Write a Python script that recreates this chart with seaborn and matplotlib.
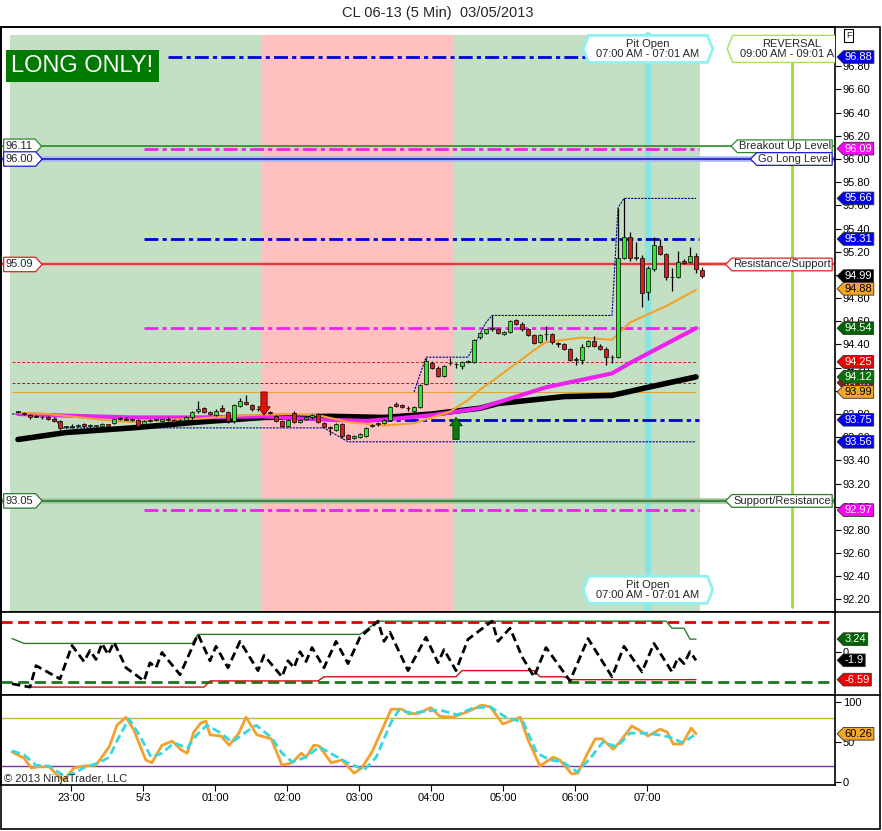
import numpy as np
import seaborn as sns
import matplotlib
matplotlib.use('Agg')
import matplotlib.pyplot as plt
from matplotlib.path import Path
from matplotlib.patches import Rectangle
from matplotlib.lines import Line2D
from matplotlib.ticker import FormatStrFormatter

# ---------------- data ----------------
# 5 min bars, first bar 22:15, last bar 07:45
opens = [93.82, 93.81, 93.79, 93.78, 93.77, 93.77, 93.76, 93.74, 93.69, 93.69,
         93.70, 93.71, 93.70, 93.70, 93.70, 93.71, 93.72, 93.76, 93.76, 93.75,
         93.75, 93.71, 93.74, 93.75, 93.74, 93.76, 93.75, 93.74, 93.75, 93.77,
         93.83, 93.85, 93.82, 93.79, 93.85, 93.82, 93.74, 93.87, 93.90, 93.88,
         93.84, 93.83, 93.82, 93.78, 93.74, 93.70, 93.81, 93.73, 93.76, 93.77,
         93.80, 93.72, 93.69, 93.66, 93.71, 93.62, 93.59, 93.60, 93.61, 93.70,
         93.71, 93.72, 93.75, 93.89, 93.88, 93.85, 93.83, 93.86, 94.06, 94.24,
         94.20, 94.13, 94.24, 94.23, 94.21, 94.25, 94.25, 94.46, 94.50, 94.53,
         94.53, 94.49, 94.51, 94.61, 94.58, 94.53, 94.48, 94.42, 94.49, 94.49,
         94.41, 94.40, 94.36, 94.27, 94.27, 94.39, 94.43, 94.39, 94.36, 94.29,
         94.29, 95.15, 95.33, 95.15, 95.15, 94.85, 95.05, 95.25, 95.18, 94.98,
         94.98, 95.12, 95.11, 95.16, 95.04]
highs = [93.83, 93.82, 93.80, 93.79, 93.78, 93.78, 93.77, 93.75, 93.70, 93.71,
         93.71, 93.72, 93.71, 93.70, 93.72, 93.71, 93.76, 93.77, 93.77, 93.76,
         93.76, 93.75, 93.76, 93.76, 93.76, 93.77, 93.76, 93.76, 93.78, 93.83,
         93.91, 93.86, 93.83, 93.84, 93.88, 93.83, 93.89, 93.94, 93.96, 93.89,
         93.85, 93.85, 93.83, 93.79, 93.75, 93.76, 93.83, 93.76, 93.78, 93.80,
         93.81, 93.73, 93.70, 93.72, 93.72, 93.63, 93.62, 93.64, 93.69, 93.71,
         93.73, 93.76, 93.87, 93.90, 93.89, 93.87, 93.87, 94.06, 94.28, 94.26,
         94.21, 94.22, 94.28, 94.24, 94.26, 94.27, 94.45, 94.51, 94.53, 94.65,
         94.54, 94.52, 94.61, 94.62, 94.59, 94.54, 94.49, 94.49, 94.56, 94.50,
         94.42, 94.41, 94.37, 94.29, 94.40, 94.44, 94.47, 94.40, 94.38, 94.31,
         95.58, 95.66, 95.37, 95.28, 95.17, 95.08, 95.33, 95.31, 95.19, 95.06,
         95.21, 95.14, 95.24, 95.19, 95.07]
lows = [93.81, 93.79, 93.76, 93.77, 93.76, 93.75, 93.73, 93.66, 93.68, 93.68,
        93.69, 93.69, 93.69, 93.69, 93.69, 93.70, 93.71, 93.75, 93.75, 93.74,
        93.69, 93.70, 93.73, 93.74, 93.73, 93.74, 93.72, 93.73, 93.74, 93.76,
        93.81, 93.81, 93.79, 93.78, 93.82, 93.72, 93.72, 93.86, 93.88, 93.83,
        93.83, 93.80, 93.80, 93.73, 93.69, 93.69, 93.72, 93.72, 93.75, 93.76,
        93.72, 93.68, 93.62, 93.65, 93.59, 93.58, 93.58, 93.59, 93.60, 93.69,
        93.70, 93.71, 93.74, 93.86, 93.85, 93.83, 93.82, 93.85, 94.05, 94.19,
        94.12, 94.12, 94.22, 94.20, 94.19, 94.24, 94.24, 94.45, 94.49, 94.52,
        94.49, 94.48, 94.50, 94.57, 94.52, 94.47, 94.40, 94.41, 94.44, 94.40,
        94.38, 94.35, 94.26, 94.22, 94.23, 94.38, 94.38, 94.35, 94.22, 94.24,
        94.28, 95.14, 95.12, 95.13, 94.72, 94.78, 95.03, 95.17, 94.96, 94.86,
        94.97, 95.09, 95.10, 95.02, 94.97]
closes = [93.82, 93.80, 93.77, 93.77, 93.77, 93.76, 93.74, 93.68, 93.69, 93.70,
          93.70, 93.70, 93.70, 93.70, 93.71, 93.70, 93.76, 93.76, 93.75, 93.75,
          93.70, 93.74, 93.75, 93.75, 93.76, 93.75, 93.73, 93.75, 93.77, 93.82,
          93.84, 93.82, 93.80, 93.83, 93.83, 93.74, 93.88, 93.91, 93.89, 93.84,
          93.84, 93.82, 93.81, 93.74, 93.70, 93.75, 93.73, 93.75, 93.77, 93.79,
          93.73, 93.69, 93.68, 93.71, 93.61, 93.585, 93.61, 93.63, 93.68, 93.70,
          93.72, 93.75, 93.86, 93.87, 93.86, 93.85, 93.86, 94.05, 94.26, 94.20,
          94.13, 94.21, 94.24, 94.23, 94.25, 94.26, 94.44, 94.50, 94.53, 94.54,
          94.50, 94.51, 94.60, 94.58, 94.53, 94.48, 94.41, 94.48, 94.49, 94.42,
          94.40, 94.36, 94.27, 94.27, 94.38, 94.43, 94.39, 94.36, 94.29, 94.29,
          95.15, 95.33, 95.15, 95.15, 94.84, 95.06, 95.26, 95.18, 94.98, 94.98,
          95.11, 95.10, 95.16, 95.05, 94.99]

# moving averages (bar index, price)
slow_ma_x = [0, 8, 19, 30, 41, 52, 61, 69, 77, 80, 91, 99, 105, 113]
slow_ma_y = [93.58, 93.64, 93.68, 93.73, 93.77, 93.78, 93.77, 93.80, 93.85, 93.89,
             93.95, 93.96, 94.03, 94.12]
mid_ma_x = [0, 5, 19, 30, 41, 47, 52, 58, 63, 69, 73, 77, 80, 88, 99, 102, 113]
mid_ma_y = [93.80, 93.79, 93.77, 93.77, 93.78, 93.76, 93.75, 93.74, 93.76, 93.79,
            93.82, 93.85, 93.90, 94.03, 94.15, 94.24, 94.54]
fast_ma_x = [0, 5, 14, 19, 25, 30, 38, 44, 50, 55, 61, 66, 72, 75, 77, 80, 86, 88,
             94, 99, 102, 108, 113]
fast_ma_y = [93.81, 93.80, 93.75, 93.73, 93.75, 93.76, 93.79, 93.80, 93.79, 93.73,
             93.70, 93.72, 93.82, 93.92, 94.01, 94.12, 94.35, 94.42, 94.46, 94.44,
             94.59, 94.73, 94.87]

# channel of highs / lows
chan_low_x = [-1, 6, 7, 51, 55, 113]
chan_low_y = [93.80, 93.80, 93.68, 93.68, 93.56, 93.56]
chan_high_x = [66, 68, 75, 78, 79, 99, 100, 101, 113]
chan_high_y = [93.99, 94.29, 94.29, 94.59, 94.65, 94.65, 95.58, 95.66, 95.66]

# dash-dot levels
level_prices = [96.88, 96.09, 95.31, 94.54, 93.75, 92.97]
level_start = [25, 21, 21, 21, 60, 21]
level_colors = ['#0000dd', '#ee22ee', '#0000dd', '#ee22ee', '#0000dd', '#ee22ee']
thin_prices = [94.25, 94.07, 93.99]
thin_colors = ['#cc2222', '#8b2a2a', '#e8a030']

# named levels across the chart
named_prices = [96.11, 96.00, 95.09, 93.05]
named_left = ['96.11', '96.00', '95.09', '93.05']
named_right = ['Breakout Up Level', 'Go Long Level', 'Resistance/Support', 'Support/Resistance']
named_colors = ['#2a8a2a', '#1a1acc', '#dd2222', '#2a7a2a']

# price tags on the right axis
tag_prices = [96.88, 96.09, 95.66, 95.31, 94.99, 94.88, 94.54, 94.07, 94.25, 94.12,
              93.99, 93.75, 93.56, 92.97]
tag_colors = ['#0000ee', '#ff00ff', '#0000ee', '#0000ee', '#000000', '#f5a623',
              '#006400', '#8b1a1a', '#ee0000', '#0a6e0a', '#f5a623', '#0000ee',
              '#0000ee', '#ff00ff']
tag_text = ['white', 'white', 'white', 'white', 'white', 'black', 'white', 'white',
            'white', 'white', 'black', 'white', 'white', 'white']

# signal arrows (bar, start, end)
down_sig = [(41, 93.99, 93.79)]
up_sig = [(73, 93.58, 93.77)]

# sessions shading (bar index bounds)
session_bounds = [-1.3, 40.7, 72.5, 113.7]
session_colors = ['#c4e0c4', '#ffc0c0', '#c4e0c4']

# oscillator panel
osc_x = [-1, 2, 3, 7, 9, 11, 12, 13, 14, 15, 16, 18, 21, 22, 23, 24, 27, 30, 32, 33,
         35, 37, 40, 41, 44, 45, 46, 47, 48, 49, 51, 53, 55, 57, 60, 61, 62, 65, 68, 70,
         71, 73, 75, 79, 80, 82, 84, 86, 88, 92, 95, 99, 101, 104, 106, 109, 110, 111,
         112, 113]
osc_y = [-7.6, -8.4, -3.2, -6.4, 1.7, -2.2, 0.5, -1.7, 2.2, -0.5, 2.5, -3.7, -6.9, -2.5,
         -3.7, 0, -5.4, 4.4, -2.0, 1.5, -3.7, 2.7, -4.4, -0.7, -5.9, -2.0, -3.7, 0.2,
         -2.2, 1.2, -3.7, 2.7, -2.7, 3.7, 7.6, 2.7, 4.9, -4.4, 3.7, -2.5, 0.7, -4.4, 3.2,
         7.6, 2.7, 5.9, -1.0, -5.9, 1.2, -6.9, 3.4, -5.9, 1.5, -4.7, 2.2, -4.7, -1.2,
         -2.7, 0.2, -1.9]
osc_up_x = [-1, 1, 29, 30, 57, 60, 108, 109, 111, 112, 113]
osc_up_y = [3.4, 2.2, 2.2, 4.4, 4.4, 7.6, 7.6, 5.9, 5.9, 3.24, 3.24]
osc_dn_x = [2, 31, 32, 50, 51, 73, 74, 86, 87, 91, 92, 113]
osc_dn_y = [-8.4, -8.4, -6.9, -6.9, -5.9, -5.9, -4.4, -4.4, -5.9, -5.9, -6.59, -6.59]
osc_hi, osc_lo = 7.44, -7.05

# stochastic panel
k_x = [-1.0, 1.0, 2.2, 3.5, 5.2, 6.5, 7.7, 9.3, 11.0, 13.0, 15.2, 16.5, 18.0, 19.3,
       21.3, 22.3, 24.0, 25.7, 27.2, 28.2, 29.3, 30.5, 31.3, 32.0, 33.8, 35.2, 36.8,
       38.0, 39.8, 42.2, 44.0, 45.7, 47.2, 48.0, 49.3, 50.2, 52.2, 54.0, 56.0, 57.3,
       59.0, 60.5, 62.2, 64.0, 65.2, 66.8, 68.8, 70.3, 72.5, 74.8, 77.3, 78.7, 80.8,
       83.7, 85.0, 87.0, 89.2, 90.3, 92.3, 93.3, 94.8, 96.2, 97.3, 99.2, 100.3, 102.3,
       103.7, 105.0, 107.0, 108.2, 109.2, 110.7, 112.2, 113.0]
k_y = [37.5, 30, 17.5, 19, 19, 9, 2.5, 17.5, 20, 21, 44, 71, 81, 65, 27.5, 24, 46, 51,
       40, 36, 62.5, 74, 76, 59, 57.5, 46, 61, 81, 59, 54, 21, 24, 36, 31, 46, 45, 24,
       27.5, 11, 17.5, 37.5, 62.5, 91, 91, 85, 86, 93, 82, 81, 87.5, 96, 94, 72.5, 81,
       52.5, 20, 31, 27.5, 10, 11, 34, 54, 54, 41, 50, 70, 64, 57.5, 66, 62.5, 47.5,
       47.5, 67.5, 60.26]
d_x = [-1, 1, 3, 5.2, 7.7, 9.3, 11.3, 13.5, 15.2, 16.8, 18.5, 20.2, 22.2, 24, 26, 28.2,
       29.8, 31.5, 33.5, 35.7, 38, 39.7, 42.3, 44, 45.7, 48, 50.2, 52.3, 54.7, 57.7,
       59.7, 62.2, 63.5, 65.7, 68.5, 70.3, 73.2, 75.8, 78.7, 81.5, 84.2, 86.5, 88.7,
       90.8, 93.2, 95.3, 97.5, 99.8, 102, 104.8, 106.7, 108.7, 110.8, 113]
d_y = [39, 34, 21, 20, 7.5, 11, 19, 24, 31, 56, 79, 59, 31, 36, 49, 42.5, 59, 71, 62.5,
       50, 62.5, 71, 55, 36, 25, 31, 44, 35, 25, 15, 31, 75, 90, 86, 89, 90, 84, 92.5,
       94, 80, 75, 36, 27.5, 25, 12.5, 29, 50, 44, 61, 61, 59, 56, 49, 60]

hour_labels = ['23:00', '5/3', '01:00', '02:00', '03:00', '04:00', '05:00', '06:00', '07:00']
first_bar_min = 15          # 22:15 -> 45 min until 23:00
pit_open_bar = 105          # 07:00
reversal_bar = 129          # 09:00

# ---------------- styling ----------------
sns.set_style('white')
plt.rcParams['font.family'] = ['Liberation Sans', 'DejaVu Sans']
plt.rcParams['axes.linewidth'] = 1.2

W, H = 882, 831
fig = plt.figure(figsize=(W / 100, H / 100), dpi=100)


def rect(left, top, right, bottom):
    return [left / W, 1 - bottom / H, (right - left) / W, (bottom - top) / H]


ax1 = fig.add_axes(rect(1, 27, 835, 612))
ax2 = fig.add_axes(rect(1, 612, 835, 695))
ax3 = fig.add_axes(rect(1, 695, 835, 785))
xlim = (-17 / 6, 817 / 6)
for ax in (ax1, ax2, ax3):
    ax.set_xlim(*xlim)
    ax.set_facecolor('white')
    for s in ax.spines.values():
        s.set_color('black')
        s.set_linewidth(1.2)
    ax.tick_params(axis='y', left=False, right=True, labelleft=False, labelright=True,
                   direction='out', length=4, width=0.8, labelsize=8, pad=1.5, colors='black')
    ax.tick_params(axis='x', bottom=False, labelbottom=False)


def tag_left(x0, y0, width, height, mutation_size):
    p = 0.12 * mutation_size
    x0, y0, w, h = x0 - p, y0 - p, width + 2 * p, height + 2 * p
    t = h * 0.5
    return Path([(x0, y0), (x0 + w, y0), (x0 + w, y0 + h), (x0, y0 + h),
                 (x0 - t, y0 + h / 2), (x0, y0)], closed=True)


def tag_right(x0, y0, width, height, mutation_size):
    p = 0.2 * mutation_size
    x0, y0, w, h = x0 - p, y0 - p, width + 2 * p, height + 2 * p
    t = h * 0.45
    return Path([(x0, y0), (x0 + w, y0), (x0 + w + t, y0 + h / 2), (x0 + w, y0 + h),
                 (x0, y0 + h), (x0, y0)], closed=True)


def hexagon(x0, y0, width, height, mutation_size):
    px, py = 0.7 * mutation_size, 0.3 * mutation_size
    x0, y0, w, h = x0 - px, y0 - py, width + 2 * px, height + 2 * py
    t = h * 0.2
    return Path([(x0, y0), (x0 + w, y0), (x0 + w + t, y0 + h / 2), (x0 + w, y0 + h),
                 (x0, y0 + h), (x0 - t, y0 + h / 2), (x0, y0)], closed=True)


def price_tag(ax, y, label, fc, tc):
    ax.annotate(label, xy=(1, y), xycoords=ax.get_yaxis_transform(), xytext=(7, 0),
                textcoords='offset points', ha='left', va='center', fontsize=8, color=tc,
                bbox=dict(boxstyle=tag_left, fc=fc, ec='#333333', lw=0.6),
                annotation_clip=False, zorder=10)


# ---------------- main price panel ----------------
ax1.set_ylim(92.0914, 97.139)
top_frac = (612 - 35) / 585
for i, c in enumerate(session_colors):
    ax1.axvspan(session_bounds[i], session_bounds[i + 1], ymin=0, ymax=top_frac,
                color=c, lw=0, zorder=0)

ax1.axvline(pit_open_bar, ymin=0, ymax=top_frac, color='#7fe6e6', lw=4.5, alpha=0.85, zorder=1.5)
ax1.axvline(reversal_bar, ymin=5 / 585, ymax=top_frac, color='#99dd33', lw=2, zorder=1.5)

# named full width levels
glow = ['#b5dcb5', '#a8b4f4', '#f4b0b0', '#9fc49f']
glow_w = [0, 4, 3, 4]
for p, c, g, gw in zip(named_prices, named_colors, glow, glow_w):
    if gw:
        ax1.axhline(p, color=g, lw=gw, zorder=1.6)
    ax1.axhline(p, color=c, lw=1.2, zorder=1.7)

for p, s, c in zip(level_prices, level_start, level_colors):
    ax1.hlines(p, s, 113.5, colors=c, lw=2, linestyles=[(0, (5, 1.5, 1.5, 1.5))], zorder=2)
for p, c, ls in zip(thin_prices, thin_colors, [(0, (3, 2)), (0, (3, 2)), '-']):
    ax1.hlines(p, -1, 113, colors=c, lw=0.7, linestyles=[ls], zorder=2)

sns.lineplot(x=chan_low_x, y=chan_low_y, ax=ax1, color='#000088', lw=0.8,
             linestyle=(0, (2, 1)), estimator=None, sort=False, zorder=2.2)
sns.lineplot(x=chan_high_x, y=chan_high_y, ax=ax1, color='#000088', lw=0.8,
             linestyle=(0, (2, 1)), estimator=None, sort=False, zorder=2.2)

sns.lineplot(x=slow_ma_x, y=slow_ma_y, ax=ax1, color='black', lw=4, estimator=None,
             sort=False, zorder=2.5)
sns.lineplot(x=mid_ma_x, y=mid_ma_y, ax=ax1, color='#ee22ee', lw=3, estimator=None,
             sort=False, zorder=2.6)
sns.lineplot(x=fast_ma_x, y=fast_ma_y, ax=ax1, color='#f2a22a', lw=1.5, estimator=None,
             sort=False, zorder=2.7)

# candles
o = np.array(opens); h = np.array(highs); l = np.array(lows); c = np.array(closes)
bx = np.arange(len(c))
ax1.vlines(bx, l, h, colors='black', lw=0.9, zorder=3)
body_lo = np.minimum(o, c)
body_h = np.maximum(np.abs(c - o), 0.004)
body_col = np.where(c >= o, '#33e633', '#dd1c1c')
ax1.bar(bx, body_h, bottom=body_lo, width=0.72, color=body_col, edgecolor='black',
        lw=0.5, zorder=4)

for b, y0, y1 in down_sig:
    ax1.annotate('', xy=(b, y1), xytext=(b, y0),
                 arrowprops=dict(arrowstyle='simple,head_length=0.6,head_width=0.9,tail_width=0.45',
                                 fc='#dd1111', ec='#6a0000', lw=0.6, shrinkA=0, shrinkB=0),
                 zorder=5)
for b, y0, y1 in up_sig:
    ax1.annotate('', xy=(b, y1), xytext=(b, y0),
                 arrowprops=dict(arrowstyle='simple,head_length=0.6,head_width=0.9,tail_width=0.45',
                                 fc='#0a7a0a', ec='#003a00', lw=0.6, shrinkA=0, shrinkB=0),
                 zorder=5)

# level labels
for p, lt, rt, col in zip(named_prices, named_left, named_right, named_colors):
    ax1.annotate(lt, xy=(0, p), xycoords=ax1.get_yaxis_transform(), xytext=(3.5, 0),
                 textcoords='offset points', ha='left', va='center', fontsize=8,
                 bbox=dict(boxstyle=tag_right, fc='white', ec=col, lw=0.9),
                 annotation_clip=False, zorder=9)
    ax1.annotate(rt, xy=(1, p), xycoords=ax1.get_yaxis_transform(), xytext=(-3, 0),
                 textcoords='offset points', ha='right', va='center', fontsize=8,
                 bbox=dict(boxstyle=tag_left, fc='white', ec=col, lw=0.9),
                 annotation_clip=False, zorder=9)

for p, fc, tc in zip(tag_prices, tag_colors, tag_text):
    price_tag(ax1, p, f'{p:.2f}', fc, tc)

box_kw = dict(ha='center', va='center', fontsize=8, linespacing=1.05, zorder=8)
xt = ax1.get_xaxis_transform()
ax1.annotate('Pit Open\n07:00 AM - 07:01 AM', xy=(pit_open_bar, 0.9625), xycoords=xt,
             bbox=dict(boxstyle=hexagon, fc='white', ec='#8ff2f2', lw=2), **box_kw)
ax1.annotate('Pit Open\n07:00 AM - 07:01 AM', xy=(pit_open_bar, 0.038), xycoords=xt,
             bbox=dict(boxstyle=hexagon, fc='white', ec='#8ff2f2', lw=2), **box_kw)
ax1.annotate('REVERSAL\n09:00 AM - 09:01 AM', xy=(reversal_bar, 0.9625), xycoords=xt,
             bbox=dict(boxstyle=hexagon, fc='white', ec='#a6e05a', lw=1), clip_on=True,
             **box_kw)

ax1.text(0.0125, 0.933, 'LONG ONLY!', transform=ax1.transAxes, ha='left', va='center',
         fontsize=17, color='white', zorder=9,
         bbox=dict(boxstyle='square,pad=0.22', fc='#007a00', ec='none'))
ax1.text(1.0165, 0.985, 'F', transform=ax1.transAxes, ha='center', va='center',
         fontsize=6.5, bbox=dict(boxstyle='square,pad=0.2', fc='white', ec='black', lw=0.8))

ax1.set_yticks(np.round(np.arange(92.2, 96.81, 0.2), 2))
ax1.yaxis.set_major_formatter(FormatStrFormatter('%.2f'))

# ---------------- oscillator panel ----------------
ax2.set_ylim(-10.32, 9.83)
ax2.axhline(osc_hi, color='#dd0000', lw=2, ls=(0, (4, 2)), zorder=1)
ax2.axhline(osc_lo, color='#1a7a1a', lw=2, ls=(0, (4, 2)), zorder=1)
sns.lineplot(x=osc_up_x, y=osc_up_y, ax=ax2, color='#2e7d2e', lw=1, estimator=None,
             sort=False, zorder=2)
sns.lineplot(x=osc_dn_x, y=osc_dn_y, ax=ax2, color='#cc1111', lw=1, estimator=None,
             sort=False, zorder=2)
sns.lineplot(x=osc_x, y=osc_y, ax=ax2, color='black', lw=2, linestyle=(0, (3, 1.6)),
             estimator=None, sort=False, zorder=3)
ax2.set_yticks([0])
ax2.set_yticklabels(['0'])
price_tag(ax2, osc_up_y[-1], f'{osc_up_y[-1]:.2f}', '#006400', 'white')
price_tag(ax2, osc_y[-1], f'{osc_y[-1]:g}', '#000000', 'white')
price_tag(ax2, osc_dn_y[-1], f'{osc_dn_y[-1]:.2f}', '#ee0000', 'white')

# ---------------- stochastic panel ----------------
ax3.set_ylim(-3.75, 108.75)
ax3.axhline(80, color='#b8b83a', lw=1, zorder=1)
ax3.axhline(20, color='#7b2fa8', lw=1, zorder=1)
sns.lineplot(x=k_x, y=k_y, ax=ax3, color='#f5a02a', lw=2, estimator=None, sort=False, zorder=2)
sns.lineplot(x=d_x, y=d_y, ax=ax3, color='#35d8e0', lw=2, linestyle=(0, (3, 1.5)),
             estimator=None, sort=False, zorder=3)
ax3.set_yticks([0, 50, 100])
price_tag(ax3, k_y[-1], f'{k_y[-1]:.2f}', '#f5a623', 'black')
ax3.text(0.003, 0.03, '\u00a9 2013 NinjaTrader, LLC', transform=ax3.transAxes, fontsize=8)

hour_idx = (60 - first_bar_min) / 5 + 12 * np.arange(len(hour_labels)) - 1 / 6
ax3.set_xticks(hour_idx)
ax3.set_xticklabels(hour_labels)
ax3.tick_params(axis='x', bottom=True, labelbottom=True, direction='out', length=4,
                width=0.8, labelsize=8, pad=2, colors='black')

for ax in (ax1, ax2, ax3):
    ax.set_xlim(*xlim)
    ax.set_xlabel('')
    ax.set_ylabel('')

# ---------------- frame and title ----------------
fig.add_artist(Rectangle((1 / W, 2 / H), 879 / W, 802 / H, transform=fig.transFigure,
                         fill=False, ec='black', lw=1.2))
for yy in (612, 695):
    fig.add_artist(Line2D([835 / W, 880 / W], [1 - yy / H, 1 - yy / H],
                          transform=fig.transFigure, color='black', lw=1.2))
fig.text(438 / W, 1 - 13 / H, 'CL 06-13 (5 Min)  03/05/2013', ha='center', va='center',
         fontsize=10.5)

fig.savefig('out.png', dpi=100)
plt.close(fig)
